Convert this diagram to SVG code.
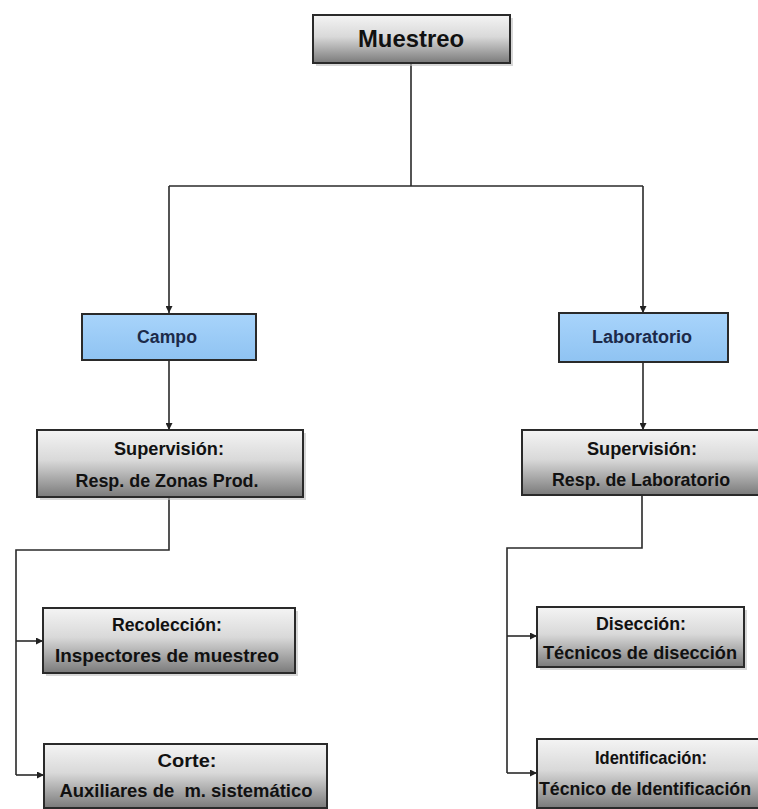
<svg xmlns="http://www.w3.org/2000/svg" width="758" height="809" viewBox="0 0 758 809">
<defs>
<linearGradient id="gray" x1="0" y1="0" x2="0" y2="1">
<stop offset="0" stop-color="#f4f4f4"/>
<stop offset="0.45" stop-color="#d9d9d9"/>
<stop offset="1" stop-color="#7a7a7a"/>
</linearGradient>
<linearGradient id="blue" x1="0" y1="0" x2="0" y2="1">
<stop offset="0" stop-color="#a8d4fb"/>
<stop offset="1" stop-color="#8fc3f2"/>
</linearGradient>
<marker id="arr" viewBox="0 0 10 10" refX="10" refY="5" markerWidth="7" markerHeight="7" markerUnits="userSpaceOnUse" orient="auto">
<path d="M0,0 L10,5 L0,10 z" fill="#222"/>
</marker>
</defs>
<style>
.g{fill:url(#gray);stroke:#2a2a2a;stroke-width:2}
.b{fill:url(#blue);stroke:#2a2a2a;stroke-width:2}
.sh{fill:#bdbdbd;opacity:0.6}
.t{font-family:"Liberation Sans",Arial,sans-serif;font-weight:bold;font-size:19px;fill:#111;text-anchor:middle}
.tb{fill:#1c2a4a;font-size:18px}
.big{font-size:24px}
.sm{font-size:17.5px}
.c{fill:none;stroke:#2a2a2a;stroke-width:1.6}
</style>
<rect width="758" height="809" fill="#fff"/>
<g id="connectors">
<path class="c" d="M411,63 V186"/>
<path class="c" d="M169,186 H643"/>
<path class="c" d="M169,186 V313" marker-end="url(#arr)"/>
<path class="c" d="M643,186 V313" marker-end="url(#arr)"/>
<path class="c" d="M169,360 V430" marker-end="url(#arr)"/>
<path class="c" d="M643,362 V430" marker-end="url(#arr)"/>
<path class="c" d="M169,497 V550 H16 V775"/>
<path class="c" d="M16,641 H43" marker-end="url(#arr)"/>
<path class="c" d="M16,775 H44" marker-end="url(#arr)"/>
<path class="c" d="M642,495 V548 H507 V773"/>
<path class="c" d="M507,636 H537" marker-end="url(#arr)"/>
<path class="c" d="M507,773 H537" marker-end="url(#arr)"/>
</g>
<g id="muestreo">
<rect class="sh" x="316" y="18" width="197" height="48"/>
<rect class="g" x="313" y="15" width="197" height="48"/>
<text class="t big" x="411" y="47" textLength="106" lengthAdjust="spacingAndGlyphs">Muestreo</text>
</g>
<g id="campo">
<rect class="b" x="82" y="314" width="174" height="46"/>
<text class="t tb" x="167" y="343" textLength="60" lengthAdjust="spacingAndGlyphs">Campo</text>
</g>
<g id="laboratorio">
<rect class="b" x="559" y="313" width="169" height="49"/>
<text class="t tb" x="642" y="343" textLength="100" lengthAdjust="spacingAndGlyphs">Laboratorio</text>
</g>
<g id="sup-campo">
<rect class="sh" x="40" y="433" width="266" height="67"/>
<rect class="g" x="37" y="430" width="266" height="67"/>
<text class="t" x="169" y="455" textLength="110" lengthAdjust="spacingAndGlyphs">Supervisión:</text>
<text class="t" x="167" y="487" textLength="183" lengthAdjust="spacingAndGlyphs">Resp. de Zonas Prod.</text>
</g>
<g id="sup-lab">
<rect class="g" x="522" y="430" width="242" height="65"/>
<text class="t" x="642" y="455" textLength="110" lengthAdjust="spacingAndGlyphs">Supervisión:</text>
<text class="t" x="641" y="486" textLength="178" lengthAdjust="spacingAndGlyphs">Resp. de Laboratorio</text>
</g>
<g id="recoleccion">
<rect class="sh" x="46" y="611" width="252" height="65"/>
<rect class="g" x="43" y="608" width="252" height="65"/>
<text class="t" x="167" y="631" textLength="110" lengthAdjust="spacingAndGlyphs">Recolección:</text>
<text class="t" x="167" y="662" textLength="224" lengthAdjust="spacingAndGlyphs">Inspectores de muestreo</text>
</g>
<g id="corte">
<rect class="g" x="44" y="744" width="283" height="64"/>
<text class="t" x="187" y="767" textLength="59" lengthAdjust="spacingAndGlyphs">Corte:</text>
<text class="t" x="186" y="797" textLength="253" lengthAdjust="spacingAndGlyphs" xml:space="preserve">Auxiliares de  m. sistemático</text>
</g>
<g id="diseccion">
<rect class="sh" x="540" y="610" width="207" height="60"/>
<rect class="g" x="537" y="607" width="207" height="60"/>
<text class="t" x="641" y="630" textLength="90" lengthAdjust="spacingAndGlyphs">Disección:</text>
<text class="t" x="640" y="659" textLength="194" lengthAdjust="spacingAndGlyphs">Técnicos de disección</text>
</g>
<g id="identificacion">
<rect class="g" x="537" y="739" width="232" height="69"/>
<text class="t" x="651" y="764" textLength="112" lengthAdjust="spacingAndGlyphs">Identificación:</text>
<text class="t sm" x="645" y="795" textLength="212" lengthAdjust="spacingAndGlyphs">Técnico de Identificación</text>
</g>
</svg>
